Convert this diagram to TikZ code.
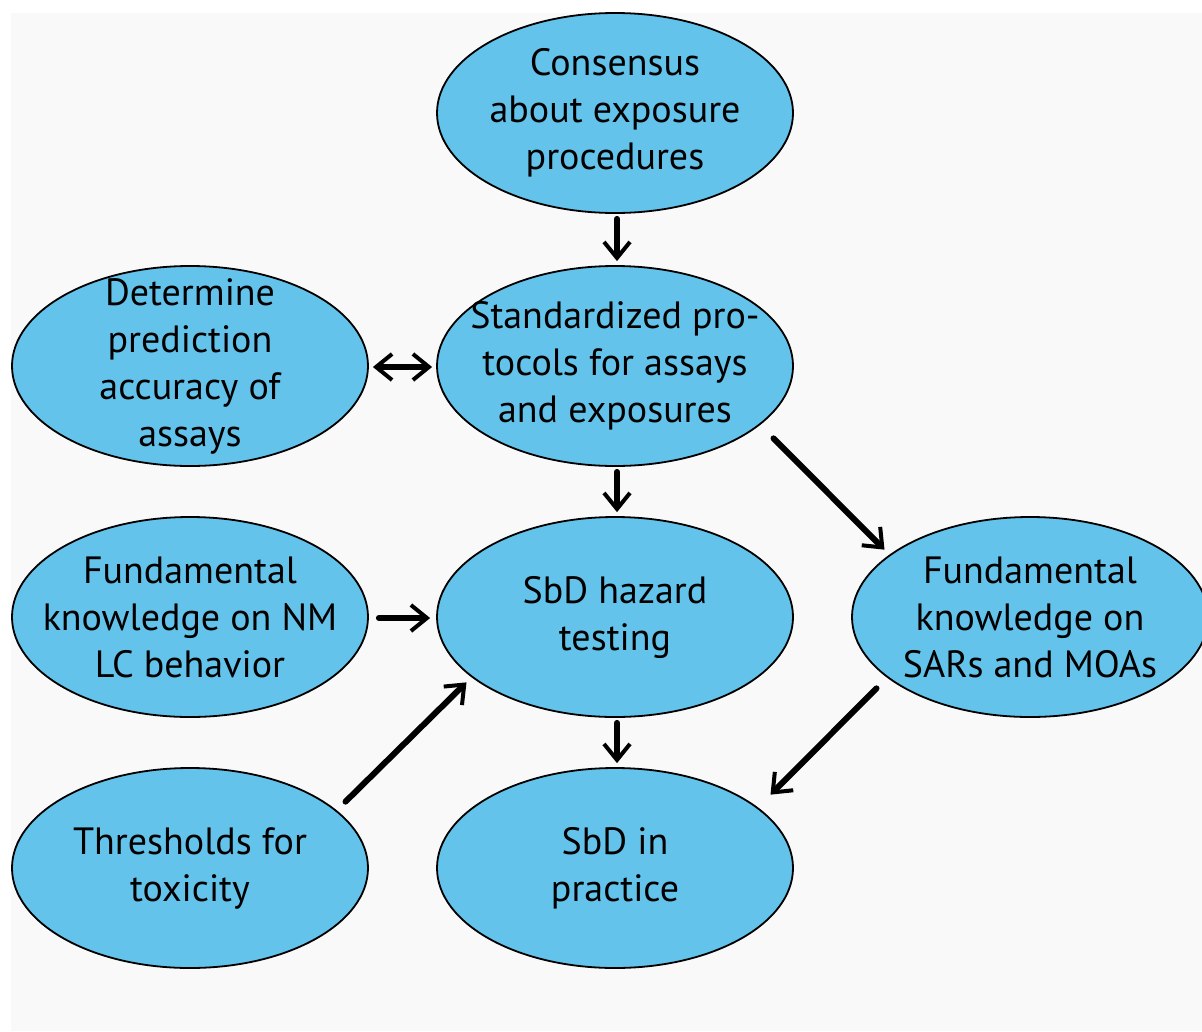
\documentclass[tikz,border=0pt]{standalone}
\usepackage{fontspec}
\setmainfont{PT Sans}
\usetikzlibrary{shapes.geometric,arrows.meta,calc}
\definecolor{bubble}{RGB}{99,195,235}
\definecolor{paper}{RGB}{249,249,249}
\tikzset{
  blob/.style={ellipse,draw=black,line width=1.8pt,fill=bubble,minimum width=356pt,minimum height=200pt,inner sep=-80pt,align=center,font=\fontsize{38}{47}\selectfont},
  arr/.style={line width=6pt,line cap=round,-{Straight Barb[length=16pt,width=26pt,line width=4pt]}},
  twoarr/.style={line width=6pt,{Straight Barb[length=16pt,width=26pt,line width=4pt]}-{Straight Barb[length=16pt,width=26pt,line width=4pt]}}
}
\begin{document}
\begin{tikzpicture}[x=1pt,y=-1pt]
        \useasboundingbox (0,0) rectangle (1202,1031);
        \fill[paper] (11,13) rectangle (1202,1031);
        \begin{scope}
        \clip (0,0) rectangle (1202,1031);
        \node[blob] (cons) at (615,113) {Consensus\\about exposure\\procedures};
        \node[blob] (std) at (615,366) {Standardized pro-\\tocols for assays\\and exposures};
        \node[blob] (acc) at (190,366) {Determine\\prediction\\accuracy of\\assays};
        \node[blob] (nmlc) at (190,617) {Fundamental\\knowledge on NM\\LC behavior};
        \node[blob] (haz) at (615,617) {SbD hazard\\testing};
        \node[blob] (sar) at (1030,617) {Fundamental\\knowledge on\\SARs and MOAs};
        \node[blob] (thr) at (190,868) {Thresholds for\\toxicity};
        \node[blob] (prac) at (615,868) {SbD in\\practice};
        \end{scope}

        \draw[arr] ($(cons.south)+(2,5)$) -- ($(std.north)+(2,-4)$);
        \draw[arr] ($(std.south)+(2,5)$) -- ($(haz.north)+(2,-4)$);
        \draw[arr] ($(haz.south)+(2,5)$) -- ($(prac.north)+(2,-4)$);
        \draw[twoarr] ($(acc.east)+(4,1)$) -- ($(std.west)+(-4,1)$);
        \draw[arr] ($(nmlc.east)+(10,1)$) -- ($(haz.west)+(-6,1)$);
        \draw[arr] ($(thr.north east)+(29,5)$) -- ($(haz.south west)+(-22,-6)$);
        \draw[arr] ($(std.south east)+(32,1)$) -- ($(sar.north west)+(-19,4)$);
        \draw[arr] ($(sar.south west)+(-27,0)$) -- ($(prac.north east)+(29,-2)$);
\end{tikzpicture}
\end{document}
